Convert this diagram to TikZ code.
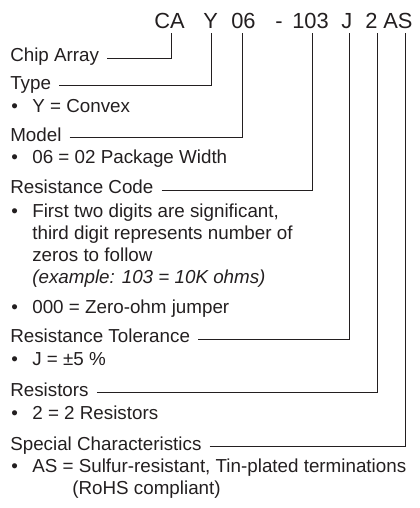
\documentclass[tikz,border=0pt]{standalone}
\usepackage{fontspec}
\setmainfont{Liberation Sans}
\definecolor{ink}{HTML}{231F20}
\tikzset{>=stealth,
  code/.style={anchor=base west, inner sep=0pt, text=ink, font=\fontsize{16.4}{19}\selectfont},
  lbl/.style={anchor=base west, inner xsep=6pt, inner ysep=0pt, text=ink, font=\fontsize{14.1}{16.5}\selectfont},
  itm/.style={anchor=base west, inner sep=0pt, text=ink, font=\fontsize{14.1}{16.5}\selectfont},
  lead/.style={draw=ink, line width=0.7pt}}
\newcommand{\bul}{\makebox[15.8pt][l]{\textbullet}}

\begin{document}
\begin{tikzpicture}[x=0.75pt, y=-0.75pt]
    \useasboundingbox (0,0) rectangle (420,508);
    % part number
    \node[code] (CA) at (154,28) {CA};
    \node[code] (Y) at (203,28) {Y};
    \node[code] (W) at (231,28) {06};
    \node[code] (D) at (275,28) {-};
    \node[code] (R) at (292,28) {103};
    \node[code] (J) at (341,28) {J};
    \node[code] (N) at (365,28) {2};
    \node[code] (AS) at (383,28) {AS};
    \coordinate (pCA) at (171,33);
    \coordinate (pY) at (211,33);
    \coordinate (pW) at (242,33);
    \coordinate (pR) at (312,33);
    \coordinate (pJ) at (349,33);
    \coordinate (pN) at (377,33);
    \coordinate (pAS) at (405,33);
    % fields
    \node[lbl] (chip) at (2,61.5) {Chip Array};
    \node[lbl] (type) at (2,89) {Type};
    \node[itm] (typeA) at (11,112) {\bul Y = Convex};
    \node[lbl] (model) at (2,141) {Model};
    \node[itm] (modelA) at (11,163) {\bul 06 = 02 Package Width};
    \node[lbl] (rcode) at (2,193.5) {Resistance Code};
    \node[itm] (rcodeA) at (11,217.5) {\begin{tabular}[t]{@{}p{15.8pt}@{}l@{}}
        \textbullet & First two digits are significant,\\
        & third digit represents number of\\
        & zeros to follow\\
        & \textit{(example: 103 = 10K ohms)}
      \end{tabular}};
    \node[itm] (rcodeB) at (11,313.5) {\bul 000 = Zero-ohm jumper};
    \node[lbl] (tol) at (2,342.5) {Resistance Tolerance};
    \node[itm] (tolA) at (11,365) {\bul J = ±5 \%};
    \node[lbl] (res) at (2,396) {Resistors};
    \node[itm] (resA) at (11,419) {\bul 2 = 2 Resistors};
    \node[lbl] (spec) at (2,450) {Special Characteristics};
    \node[itm] (specA) at (11,472) {\begin{tabular}[t]{@{}p{15.8pt}@{}l@{}}
        \textbullet & AS = Sulfur-resistant, Tin-plated terminations\\
        & \hspace*{30pt}(RoHS compliant)
      \end{tabular}};
    % leaders
    \draw[lead] (chip.mid east) -| (pCA);
    \draw[lead] (type.mid east) -| (pY);
    \draw[lead] (model.mid east) -| (pW);
    \draw[lead] (rcode.mid east) -| (pR);
    \draw[lead] (tol.mid east) -| (pJ);
    \draw[lead] (res.mid east) -| (pN);
    \draw[lead] (spec.mid east) -| (pAS);
\end{tikzpicture}
\end{document}
